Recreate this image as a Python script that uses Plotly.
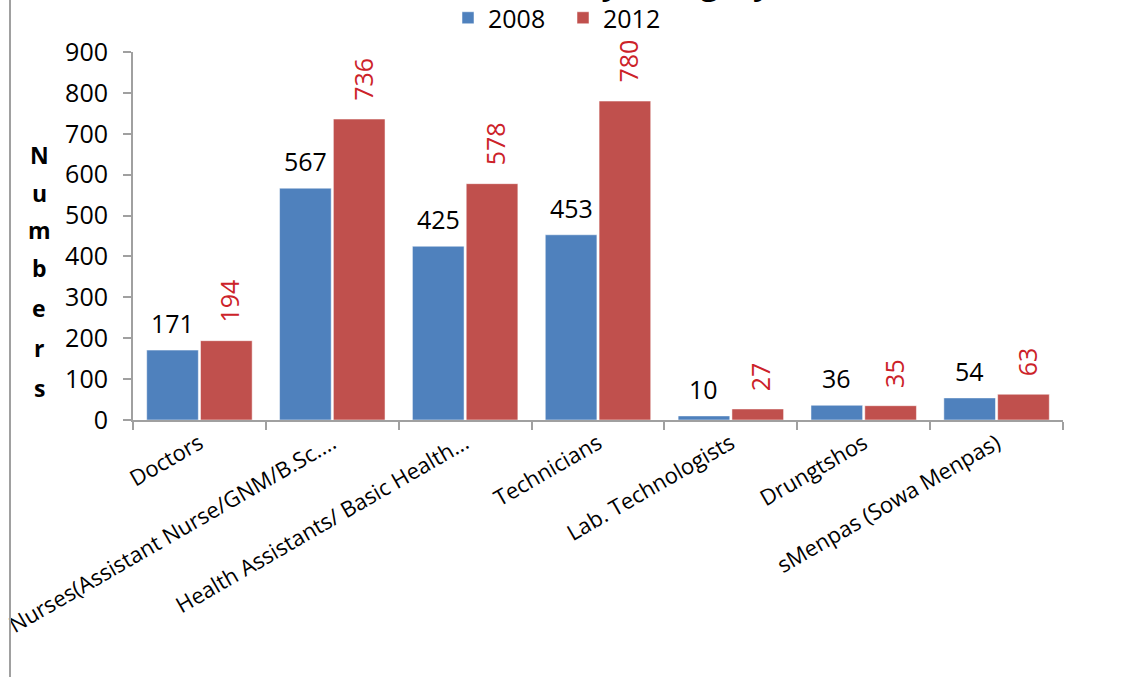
import plotly.graph_objects as go

categories = ["Doctors", "Nurses(Assistant Nurse/GNM/B.Sc....", "Health Assistants/ Basic Health...",
              "Technicians", "Lab. Technologists", "Drungtshos", "sMenpas (Sowa Menpas)"]
values_2008 = [171, 567, 425, 453, 10, 36, 54]
values_2012 = [194, 736, 578, 780, 27, 35, 63]
series_names = ["2008", "2012"]
y_ticks = [0, 100, 200, 300, 400, 500, 600, 700, 800, 900]
y_title_letters = list("Numbers")
title_text = "Health Workforce by Category"

W, H = 1138, 677
ML, MR, MT, MB = 133, 75, 52, 257
PW, PH = W - ML - MR, H - MT - MB

def px_x(p):
    return (p - ML) / PW

def px_y(p):
    return (H - MB - p) / PH

BLUE = "#4F81BD"
RED = "#C0504D"
RED_TXT = "#CC2229"
AXIS = "#A0A0A0"
FONT = "Open Sans"

fig = go.Figure()
fig.add_trace(go.Bar(x=categories, y=values_2008, name=series_names[0],
                     marker=dict(color=BLUE, line=dict(color="rgba(255,255,255,0.5)", width=1))))
fig.add_trace(go.Bar(x=categories, y=values_2012, name=series_names[1],
                     marker=dict(color=RED, line=dict(color="rgba(255,255,255,0.5)", width=1))))

annotations = []
for c, v in zip(categories, values_2008):
    annotations.append(dict(x=c, y=v, xref="x", yref="y", text=str(v), showarrow=False,
                            xshift=-27, yshift=8, yanchor="bottom",
                            font=dict(family=FONT, size=25, color="#000000")))
for c, v in zip(categories, values_2012):
    annotations.append(dict(x=c, y=v, xref="x", yref="y", text=str(v), showarrow=False,
                            xshift=30, yshift=16, yanchor="bottom", textangle=-90,
                            font=dict(family=FONT, size=25, color=RED_TXT)))

letter_y = [155, 193, 230, 268, 308, 348, 388]
for ch, py in zip(y_title_letters, letter_y):
    annotations.append(dict(x=px_x(39), y=px_y(py), xref="paper", yref="paper", text="<b>%s</b>" % ch,
                            showarrow=False, xanchor="center", yanchor="middle",
                            font=dict(family=FONT, size=23, color="#000000")))

annotations.append(dict(x=px_x(774), y=px_y(5), xref="paper", yref="paper", text="<b>%s</b>" % title_text,
                        showarrow=False, xanchor="right", yanchor="bottom",
                        font=dict(family=FONT, size=32, color="#000000")))

fig.update_layout(
    width=W, height=H,
    margin=dict(l=ML, r=MR, t=MT, b=MB, pad=0, autoexpand=False),
    paper_bgcolor="white", plot_bgcolor="white",
    barmode="group", bargap=0.19, bargroupgap=0.04,
    font=dict(family=FONT, size=22, color="#000000"),
    showlegend=True,
    legend=dict(orientation="h", xref="container", yref="container",
                x=448 / W, y=1 - 18 / H, xanchor="left", yanchor="middle",
                entrywidth=70, entrywidthmode="pixels",
                font=dict(family=FONT, size=25, color="#000000"), bgcolor="rgba(0,0,0,0)"),
    annotations=annotations,
    shapes=[dict(type="line", xref="paper", yref="paper", x0=px_x(10), x1=px_x(10),
                 y0=px_y(0), y1=px_y(H), line=dict(color=AXIS, width=2))],
)
fig.update_xaxes(showline=True, linecolor=AXIS, linewidth=2, ticks="outside", tickson="boundaries",
                 ticklen=8, tickcolor=AXIS, tickwidth=2, tickangle=-30, showgrid=False, automargin=False,
                 tickfont=dict(family=FONT, size=22, color="#000000"))
fig.update_yaxes(range=[0, 900], tickvals=y_ticks, showline=True, linecolor=AXIS, linewidth=2,
                 ticks="outside", ticklen=8, tickcolor=AXIS, tickwidth=2, showgrid=False,
                 zeroline=False, ticklabelstandoff=10, automargin=False,
                 tickfont=dict(family=FONT, size=25, color="#000000"))

fig.write_html("out.html", config={"displayModeBar": False},
               post_script="document.body.style.margin='0';")
